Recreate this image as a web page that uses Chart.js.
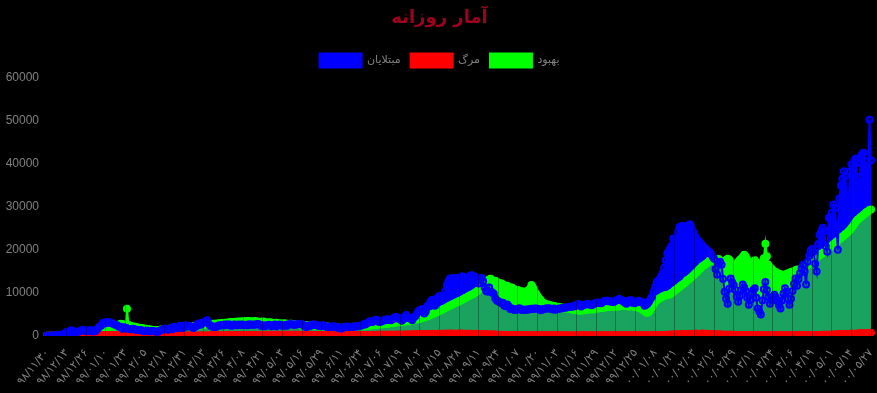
<!DOCTYPE html>
<html lang="fa">
<head>
<meta charset="utf-8">
<title>آمار روزانه</title>
<script src="https://cdn.jsdelivr.net/npm/chart.js@4/dist/chart.umd.min.js"></script>
<style>
  html, body { margin: 0; padding: 0; background: #000; }
  #wrap { width: 877px; height: 393px; }
</style>
</head>
<body>
<div id="wrap"><canvas id="dailyChart" width="877" height="393"></canvas></div>
<script>
// روزانه از ۹۸/۱۱/۳۰ تا ۰۰/۰۵/۲۷
const firstDay = [1398, 11, 30];
const dayCount = 547;
const labelStep = 13;

// مبتلایان
const cases = [
    2, 3, 13, 10, 15, 18, 34, 44, 106, 143, 205,
    385, 523, 835, 586, 591, 1234, 1076, 743, 595, 881, 958, 1075, 1289, 1365, 1209, 1053, 1178, 1192, 1046, 1237, 966, 1028, 1411, 1762, 2206, 2389, 2926, 3076, 2901, 3186, 3110,
    2987, 2875, 2715, 2560, 2483, 2274, 2089, 1997, 1634, 1972, 1837, 1657, 1617, 1574, 1512, 1606, 1499, 1374, 1343, 1294, 1297, 1194, 1030, 1168, 1134, 1153, 991, 1112, 1073, 1006,
    983, 802, 976, 1223, 1323, 1481, 1680, 1529, 1383, 1485, 1683, 1481, 2080, 1958, 1808, 1757, 2294, 2112, 1806, 2346, 2392, 2102, 2311, 2181, 2023, 1762, 2111, 2211, 2819, 2596, 2516,
    2979, 3117, 3134, 3574, 2886, 2364, 2269, 2043, 2095, 2011, 2238, 2410, 2369, 2472, 2449, 2612, 2563, 2596, 2615, 2322, 2368, 2573, 2531, 2445, 2595, 2489, 2628, 2536, 2457, 2549,
    2450, 2652, 2560, 2588, 2560, 2613, 2637, 2691, 2521, 2262, 2397, 2186, 2349, 2388, 2521, 2379, 2166, 2414, 2621, 2166, 2414, 2625, 2434, 2333, 2316, 2460, 2316, 2667, 2636, 2634, 2621,
    2502, 2685, 2598, 2751, 2697, 2634, 2450, 2125, 2020, 2345, 2176, 2444, 2539, 2635, 2457, 2450, 2264, 2205, 2385, 2444, 2212, 2125, 1989, 2082, 2112, 2023, 2191, 2060, 1877, 1952, 1682,
    1682, 1858, 1996, 2156, 2016, 2024, 2052, 2095, 2070, 2063, 2203, 2106, 2201, 2313, 2487, 2705, 2617, 2877, 3049, 3341, 3204, 3260, 3521, 3712, 3614, 3205, 3222, 3362, 3559, 3574,
    3825, 3677, 3650, 3611, 3902, 4151, 4392, 4019, 4142, 4002, 3475, 3822, 4206, 4830, 4103, 4038, 4002, 3609, 4251, 4541, 5039, 5616, 5960, 5814, 6191, 5141, 5616, 6824, 6968, 7820, 8293,
    7719, 6968, 8289, 8932, 9236, 8184, 8201, 9181, 10343, 11737, 12715, 13287, 12697, 13421, 13053, 12931, 13352, 13223, 13402, 13843, 12543, 13479, 13053, 12461, 13843, 14051, 13321, 13843, 13402, 13321,
    12151, 13321, 13402, 12640, 11121, 10397, 10223, 11223, 10279, 10021, 9767, 8702, 8201, 8002, 7799, 7600, 7652, 6931, 6823, 7222, 6791, 6222, 6302, 6113, 5972, 6185, 6089, 6388, 6094, 5980, 6075,
    5960, 6073, 6089, 6125, 6251, 6213, 6302, 6295, 6251, 6213, 5885, 6015, 6212, 6234, 6347, 6396, 6302, 6251, 6074, 6295, 6015, 6213, 6251, 6302, 6388, 6449, 6466, 6529, 6593, 6652, 6690,
    6760, 6792, 6927, 7186, 7385, 7151, 6762, 7076, 7168, 7266, 7374, 7325, 7166, 7093, 7309, 7510, 7675, 7733, 7602, 7560, 7719, 8011, 8105, 8131, 8030, 8014, 7903, 7845,
    7940, 8173, 8326, 8510, 8271, 8217, 7867, 7680, 7402, 7961, 8262, 8210, 7682, 7521, 7640, 7860, 8134, 7875, 7732, 7700, 6980, 7220, 7500, 8000, 8600, 9100, 10300, 11300, 12400, 12900, 13100,
    13900, 14500, 15800, 17500, 19100, 19600, 20400, 20900, 22600, 21900, 22500, 24000, 25200, 25400, 25582, 25000, 24400, 24800, 25600, 25900, 25200, 24300, 23400, 22800, 22200, 21900, 21500, 21000, 20600, 20200,
    20100, 19600, 19400, 19000, 18400, 17900, 15500, 14200, 16800, 17200, 16500, 13200, 10200, 8600, 7400, 10900, 13300, 12400, 11800, 10700, 9100, 7900, 9200, 10600, 11900, 11200, 10400, 8800, 7200, 8300, 9900,
    10600, 11000, 8800, 6300, 5600, 4900, 8200, 10800, 12500, 10600, 9000, 7400, 8300, 9000, 9500, 8900, 8000, 7100, 6300, 8200, 9800, 11000, 10200, 8600, 7200, 8600, 10400, 12100, 13300, 11600,
    13100, 14500, 15600, 16500, 14900, 11900, 17200, 18500, 19800, 20200, 19500, 16700, 14900, 21300, 23400, 24200, 25100, 24300, 20800, 19500, 27400, 27200, 28600, 30500, 29700, 25800, 20000, 31900, 34900, 36500, 38200,
    37200, 31100, 28900, 38100, 39800, 38700, 40800, 41200, 36900, 32500, 40100, 42100, 42500, 40600, 39000, 34400, 50200, 40800
];

// مرگ
const deaths = [
    2, 0, 2, 0, 1, 4, 3, 4, 3, 7, 8,
    11, 12, 11, 15, 15, 17, 21, 49, 43, 54, 63, 75, 85, 97, 113, 129, 135, 147, 149, 149, 123, 129, 127, 122, 143, 157, 144, 139, 123, 117, 141,
    138, 124, 134, 158, 151, 136, 133, 121, 117, 122, 125, 117, 111, 98, 94, 92, 89, 73, 87, 91, 88, 94, 90, 93, 76, 60, 96, 71, 80, 71,
    63, 74, 47, 55, 74, 78, 68, 45, 48, 51, 45, 48, 50, 59, 56, 35, 51, 35, 34, 62, 69, 66, 58, 51, 34, 50, 57, 56, 63, 57, 52,
    66, 64, 70, 59, 63, 72, 75, 70, 74, 81, 71, 75, 78, 71, 107, 113, 115, 120, 87, 116, 100, 119, 121, 129, 134, 133, 144, 109, 162, 147,
    141, 148, 147, 154, 163, 200, 160, 153, 221, 142, 188, 179, 203, 194, 179, 195, 188, 183, 188, 217, 229, 215, 221, 195, 188, 216, 235, 212, 212, 235, 219,
    208, 216, 196, 212, 174, 189, 181, 171, 177, 180, 185, 169, 181, 169, 155, 156, 164, 147, 129, 131, 127, 123, 111, 117, 125, 128, 119, 127, 126, 132, 125,
    121, 114, 133, 127, 122, 113, 129, 111, 132, 118, 112, 145, 116, 130, 135, 144, 136, 144, 176, 165, 178, 175, 184, 177, 195, 203, 197, 205, 221, 210,
    235, 207, 188, 192, 229, 239, 228, 235, 272, 251, 208, 214, 279, 274, 279, 254, 258, 253, 322, 337, 322, 335, 322, 309, 337, 346, 337, 365, 415, 346, 355,
    434, 389, 419, 440, 415, 434, 459, 444, 419, 486, 422, 474, 482, 461, 433, 431, 451, 482, 462, 479, 457, 475, 431, 469, 469, 475, 404, 412, 440, 410,
    393, 371, 358, 330, 321, 315, 305, 296, 279, 265, 266, 254, 221, 216, 181, 192, 182, 167, 178, 160, 174, 175, 164, 145, 137, 153, 129, 136, 134, 115, 110,
    107, 110, 103, 96, 84, 92, 92, 92, 86, 77, 79, 84, 85, 88, 76, 82, 73, 76, 80, 82, 74, 79, 83, 79, 81, 78, 68, 77, 69, 75, 64,
    69, 57, 84, 64, 80, 75, 80, 84, 84, 80, 70, 79, 77, 70, 67, 75, 69, 75, 80, 80, 80, 83, 88, 91, 76, 90, 95, 94,
    88, 87, 92, 93, 86, 80, 84, 86, 88, 84, 90, 94, 86, 87, 85, 82, 87, 83, 82, 96, 88, 78, 70, 74, 92, 93, 97, 114, 133, 158, 185,
    173, 178, 180, 183, 190, 217, 234, 269, 267, 257, 268, 313, 301, 309, 320, 364, 365, 405, 391, 400, 428, 407, 417, 496, 389, 390, 411, 485, 452, 420,
    438, 403, 367, 398, 375, 330, 321, 318, 273, 259, 267, 234, 238, 211, 218, 208, 203, 206, 192, 172, 177, 164, 150, 165, 139, 134, 137, 131, 117, 125, 131,
    126, 123, 138, 127, 118, 111, 114, 118, 117, 115, 113, 118, 125, 117, 123, 121, 113, 115, 120, 116, 118, 117, 110, 124, 138, 125, 129, 131, 137, 146,
    148, 144, 144, 140, 147, 150, 164, 158, 166, 172, 160, 166, 175, 178, 175, 180, 197, 213, 236, 214, 236, 213, 229, 256, 300, 293, 357, 368, 379, 409, 384,
    384, 411, 411, 425, 453, 456, 455, 469, 458, 565, 571, 588, 564, 466, 568, 585, 588, 655
];

// بهبود
const recovered = [
    0, 0, 0, 0, 0, 0, 0, 0, 49, 0, 73,
    116, 120, 261, 187, 239, 137, 357, 246, 320, 700, 225, 395, 307, 500, 574, 524, 523, 595, 645, 700, 745, 830, 890, 1020, 1060, 1150, 1120, 1290, 1410, 1700, 1890,
    2233, 2245, 2100, 2150, 2357, 2505, 2650, 2770, 2689, 2380, 2150, 6250, 2480, 2310, 2200, 2150, 2089, 1980, 1891, 1829, 1790, 1700, 1650, 1600, 1540, 1480, 1435, 1380, 1320, 1290,
    1270, 1250, 1310, 1370, 1420, 1440, 1530, 1470, 1560, 1610, 1640, 1710, 1680, 1730, 1760, 1790, 1860, 1890, 1870, 1960, 1990, 2060, 2010, 2110, 2140, 2210, 2170, 2260, 2290, 2360, 2390,
    2440, 2510, 2540, 2610, 2600, 2660, 2690, 2760, 2790, 2770, 2830, 2840, 2910, 2940, 3010, 3000, 2970, 3060, 3090, 3160, 3090, 3140, 3210, 3240, 3310, 3240, 3290, 3310, 3340, 3410,
    3340, 3410, 3290, 3260, 3340, 3420, 3290, 3210, 3140, 3260, 3290, 3210, 3090, 3010, 3060, 3110, 2990, 2910, 2940, 3010, 2890, 2860, 2790, 2910, 2840, 2810, 2740, 2710, 2790, 2760, 2690,
    2660, 2710, 2590, 2560, 2640, 2610, 2490, 2460, 2510, 2390, 2360, 2440, 2410, 2290, 2260, 2310, 2190, 2160, 2240, 2210, 2090, 2060, 2110, 1990, 1960, 2040, 2010, 1890, 1860, 1910, 1790,
    1810, 1860, 1890, 1840, 1960, 1910, 1990, 1940, 2060, 2010, 2090, 2040, 2160, 2110, 2190, 2260, 2210, 2290, 2340, 2310, 2390, 2460, 2490, 2440, 2560, 2590, 2640, 2610, 2690, 2760,
    2740, 2810, 2860, 2890, 2940, 3010, 3040, 3110, 3140, 3210, 3160, 3240, 3290, 3360, 3390, 3340, 3460, 3490, 3610, 3690, 3760, 3840, 3960, 4040, 4160, 4290, 4410, 4490, 4660, 4790, 4960,
    5110, 5350, 5380, 5640, 5760, 5930, 6050, 6340, 6460, 6650, 6770, 7040, 7150, 7360, 7470, 7720, 7780, 8050, 8150, 8340, 8480, 8740, 8850, 9130, 9270, 9540, 9560, 9850, 10060, 10330,
    10610, 10990, 11410, 11790, 12210, 12490, 12810, 13090, 13210, 12890, 12710, 12790, 12510, 12290, 12110, 12190, 11890, 11710, 11490, 11610, 11290, 11110, 11210, 10890, 10710, 10490, 10610, 10390, 10210, 10310, 10090,
    9990, 10310, 10590, 10910, 11810, 11190, 10510, 9790, 9210, 8690, 8310, 7890, 7610, 7390, 7310, 7190, 7110, 6990, 6910, 6890, 6810, 6690, 6710, 6590, 6510, 6490, 6410, 6290, 6310, 6190, 6210,
    6090, 5990, 6010, 5890, 5910, 5790, 5810, 5890, 5910, 5990, 6010, 6090, 6110, 6190, 6090, 6210, 6290, 6310, 6390, 6410, 6490, 6510, 6590, 6610, 6690, 6710, 6790, 6810,
    6690, 6710, 6790, 6810, 6890, 6910, 6990, 6890, 6910, 6790, 6810, 6890, 6790, 6710, 6690, 6590, 6510, 6390, 6210, 5990, 5710, 5390, 5310, 5610, 6090, 6710, 7290, 7890, 8210, 8490, 8710,
    8890, 9150, 9240, 9460, 9440, 9570, 9640, 9960, 10140, 10560, 10740, 11060, 11240, 11660, 11840, 12160, 12340, 12860, 12960, 13340, 13560, 13940, 14260, 14640, 14940, 15360, 15640, 16060, 16240, 16560,
    16810, 17090, 17410, 17690, 17510, 17190, 17410, 17590, 17810, 17490, 17210, 16990, 17310, 17590, 17890, 17710, 17190, 16590, 15610, 15990, 16610, 17190, 17610, 17890, 18310, 18790, 18410, 17790, 17190, 16490, 16810,
    17190, 17510, 16990, 16490, 16210, 15990, 16990, 17990, 21400, 18490, 16510, 15990, 15610, 15190, 14890, 14810, 14590, 14410, 14310, 14190, 14090, 14210, 14310, 14490, 14610, 14790, 14910, 15010, 15190, 15410,
    14990, 15260, 15340, 15660, 15840, 16240, 16360, 16740, 16940, 17360, 17440, 17860, 18040, 18460, 18640, 19040, 19160, 19540, 19760, 20040, 20260, 20640, 20860, 21240, 21460, 21840, 22060, 22440, 22660, 23040, 23260,
    23640, 23860, 24240, 24560, 25040, 25460, 26040, 26460, 26940, 27160, 27540, 27760, 28140, 28360, 28740, 28860, 29240, 29310
];

const faDigits = ["۰", "۱", "۲", "۳", "۴", "۵", "۶", "۷", "۸", "۹"];
const toFa = (s) => String(s).replace(/[0-9]/g, (d) => faDigits[d]);
const pad = (n) => (n < 10 ? "0" : "") + n;

const monthDays = (y, m) => {
    if (m <= 6) return 31;
    if (m <= 11) return 30;
    return y === 1399 ? 30 : 29;
};

const days = [];
let [y, m, d] = firstDay;
for (let i = 0; i < dayCount; i++) {
    days.push(toFa(pad(y % 100) + "/" + pad(m) + "/" + pad(d)));
    d++;
    if (d > monthDays(y, m)) {
        d = 1;
        m++;
        if (m > 12) { m = 1; y++; }
    }
}

const faFont = "'DejaVu Sans', 'Liberation Sans', sans-serif";
const canvas = document.getElementById("dailyChart");

new Chart(canvas, {
    type: "line",
    data: {
        labels: days,
        datasets: [
            {
                label: "مبتلایان",
                data: cases,
                borderColor: "#0000ff",
                backgroundColor: "#0000ff",
                pointBackgroundColor: "rgba(0, 0, 255, 0.35)",
                // بین مبتلایان و بهبود
                fill: { target: 2, above: "#0000ff", below: "#00ff00" },
                borderWidth: 2,
                pointRadius: 3,
                pointBorderWidth: 2,
                tension: 0,
            },
            {
                label: "مرگ",
                data: deaths,
                borderColor: "#ff0000",
                backgroundColor: "#ff0000",
                fill: false,
                borderWidth: 2,
                pointRadius: 3,
                pointBorderWidth: 2,
                tension: 0,
            },
            {
                label: "بهبود",
                data: recovered,
                borderColor: "#00ff00",
                backgroundColor: "#00ff00",
                fill: { target: "origin", above: "#1aa35e" },
                borderWidth: 2,
                pointRadius: 3,
                pointBorderWidth: 2,
                tension: 0,
            },
        ],
    },
    options: {
        responsive: false,
        animation: false,
        layout: { padding: { left: 6, right: 4 } },
        plugins: {
            filler: { drawTime: "beforeDatasetsDraw" },
            title: {
                display: true,
                text: "آمار روزانه",
                color: "#a0001e",
                font: { family: faFont, size: 18, weight: "bold" },
                padding: { top: 8, bottom: 14 },
            },
            legend: {
                labels: {
                    color: "#808080",
                    boxWidth: 42,
                    boxHeight: 14,
                    font: { family: faFont, size: 11 },
                },
            },
            tooltip: { enabled: false },
        },
        scales: {
            x: {
                grid: { color: "rgba(0, 0, 0, 0.3)", z: 1 },
                border: { display: false },
                afterBuildTicks: (axis) => {
                    axis.ticks = axis.ticks.filter((t) => t.value % labelStep === 0);
                },
                afterFit: (axis) => {
                    axis.paddingLeft = 0;
                    axis.paddingRight = 0;
                    axis.height += 2;
                },
                ticks: {
                    autoSkip: false,
                    minRotation: 50,
                    maxRotation: 50,
                    color: "#808080",
                    font: { family: faFont, size: 11 },
                },
            },
            y: {
                min: 0,
                max: 60000,
                grid: { display: false },
                border: { display: false },
                afterFit: (axis) => {
                    axis.width = 41;
                },
                ticks: {
                    stepSize: 10000,
                    padding: 0,
                    color: "#808080",
                    font: { size: 12 },
                    callback: (value) => value,
                },
            },
        },
    },
});
</script>
</body>
</html>
